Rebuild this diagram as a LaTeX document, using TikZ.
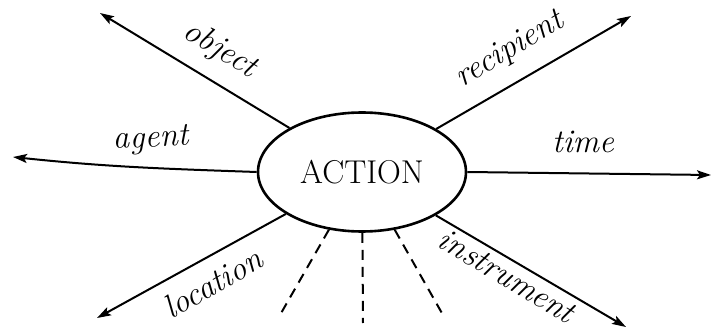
\documentclass[tikz,border=0pt]{standalone}
\usepackage{tikz}
\usetikzlibrary{arrows.meta,shapes.geometric}

\begin{document}
\begin{tikzpicture}[x=1pt,y=1pt,
  rel/.style={line width=2pt,-{Stealth[length=14pt,width=9pt,inset=3pt]}},
  slot/.style={line width=2pt,dash pattern=on 10pt off 7pt},
  role/.style={font=\fontsize{33}{37}\selectfont\itshape,inner sep=0pt}]
\useasboundingbox (0,0) rectangle (713,330);
\node[ellipse,draw,line width=2.6pt,minimum width=208pt,minimum height=119pt,inner sep=0pt,
  font=\fontsize{33}{37}\selectfont] (action) at (362,158) {ACTION};
\coordinate (objtip) at (100,317);
\coordinate (rectip) at (631,314);
\coordinate (timetip) at (711,155);
\coordinate (agtip) at (13,173);
\coordinate (loctip) at (97,12);
\coordinate (insttip) at (626,3);
\coordinate (slota) at (280,15);
\coordinate (slotb) at (363,7);
\coordinate (slotc) at (443,15);
\draw[rel] (action) -- (objtip);
\draw[rel] (action) -- (rectip);
\draw[rel] (action.east) -- (timetip);
\draw[rel] (action.west) to[out=178,in=-6] (agtip);
\draw[rel] (action) -- (loctip);
\draw[rel] (action) -- (insttip);
\draw[slot] (action) -- (slota);
\draw[slot] (action) -- (slotb);
\draw[slot] (action) -- (slotc);
\node[role,rotate=-31] (objlbl) at (220,280) {object};
\node[role,rotate=3] (aglbl) at (151,190) {agent};
\node[role,rotate=31] (reclbl) at (510,280) {recipient};
\node[role] (timelbl) at (583,188) {time};
\node[role,rotate=30] (loclbl) at (213,47) {location};
\node[role,rotate=-31] (instlbl) at (507,54) {instrument};
\end{tikzpicture}
\end{document}
